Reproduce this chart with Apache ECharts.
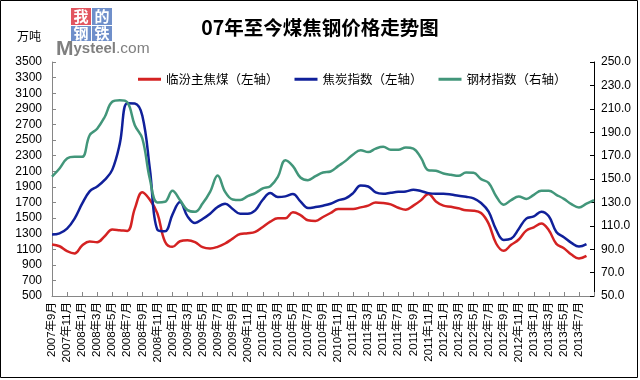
<!DOCTYPE html>
<html><head><meta charset="utf-8">
<script src="https://cdn.jsdelivr.net/npm/echarts/dist/echarts.min.js"></script>
<style>html,body{margin:0;padding:0;background:#fff}#c{width:640px;height:380px}</style>
</head><body><div id="c"></div>
<script>
// Months 2007-09 ... 2013-09
const startYear = 2007, startMonth = 9, monthCount = 73;
const categories = [];
for (let i = 0; i < monthCount; i++) {
  const t = startYear * 12 + (startMonth - 1) + i;
  categories.push(Math.floor(t / 12) + '年' + (t % 12 + 1) + '月');
}
const seriesNames = ['临汾主焦煤（左轴）', '焦炭指数（左轴）', '钢材指数（右轴）'];
const linfenCoal = [1160,1138,1075,1045,1147,1198,1190,1266,1351,1343,
  1334,1620,1830,1734,1560,1200,1130,1202,1215,1190,
  1126,1109,1130,1173,1236,1296,1304,1321,1385,1453,
  1496,1496,1573,1538,1470,1462,1513,1564,1615,1615,
  1615,1636,1658,1700,1692,1675,1632,1607,1658,1726,
  1807,1713,1658,1645,1624,1598,1594,1564,1428,1173,
  1079,1156,1224,1338,1381,1428,1343,1168,1113,1032,
  981,1015];
const cokeIndex = [1287,1304,1364,1492,1683,1841,1904,1989,2117,2450,
  2972,2968,2810,2130,1350,1330,1543,1704,1521,1436,
  1487,1555,1641,1683,1615,1555,1555,1598,1734,1819,
  1768,1777,1807,1713,1628,1640,1658,1683,1726,1751,
  1819,1917,1904,1828,1811,1824,1836,1841,1862,1845,
  1819,1811,1811,1802,1785,1772,1751,1692,1581,1351,
  1219,1236,1360,1492,1521,1581,1521,1321,1253,1181,
  1134,1165];
const steelIndex = [152,159,167.5,169,169,187.4,193,203,216,217.3,
  215.6,196,184.6,150,130,130.5,140,132,123.4,122,
  129,139,153,139,132.5,132,135.3,138,141.9,143.9,
  151.8,166,161,151.3,149,152.4,155.5,156.4,161,165.5,
  171,174.6,173,176,177.5,175,175,176.9,176,168.3,
  157.5,157,154.7,153.6,152.7,155.5,155.3,149.9,146.7,135.3,
  128,132,135,133,136.5,140,140,136.5,133,128.5,
  125.7,129,132];
const leftTicks = [500,700,900,1100,1300,1500,1700,1900,2100,2300,2500,2700,2900,3100,3300,3500];
const rightTicks = [50,70,90,110,130,150,170,190,210,230,250];
const colors = ['#d42222', '#10209a', '#42967a'];

const FONT = "'Liberation Sans','Noto Sans CJK SC',sans-serif";
const CJK = "'Noto Sans CJK SC',sans-serif";
const chart = echarts.init(document.getElementById('c'), null, {renderer: 'canvas'});
chart.setOption({
  backgroundColor: '#fff',
  animation: false,
  title: {
    text: '07年至今煤焦钢价格走势图', left: 'center', top: 13,
    textStyle: {fontSize: 19.5, fontWeight: 'bold', color: '#000', fontFamily: CJK}
  },
  legend: {
    left: 133, top: 68, itemWidth: 23, itemHeight: 3, itemGap: 16, icon: 'rect',
    textStyle: {fontSize: 12.5, color: '#000', fontFamily: CJK},
    data: seriesNames
  },
  grid: {left: 52, right: 46, top: 62, bottom: 84, containLabel: false},
  xAxis: {
    type: 'category', data: categories, boundaryGap: false,
    axisLine: {lineStyle: {color: '#868686', width: 1}},
    axisTick: {inside: true, length: 4, interval: (i) => i % 2 === 0, lineStyle: {color: '#868686'}},
    axisLabel: {rotate: 90, margin: 6, interval: (i) => i % 2 === 0 && i < 72,
      fontSize: 11.5, color: '#000', fontFamily: FONT},
    splitLine: {show: false}
  },
  yAxis: [{
    type: 'value', min: 500, max: 3500, position: 'left',
    axisLine: {show: true, lineStyle: {color: '#868686'}},
    axisTick: {show: true, inside: true, length: 4, customValues: leftTicks, lineStyle: {color: '#868686'}},
    axisLabel: {customValues: leftTicks, margin: 10, fontSize: 12, color: '#000', fontFamily: FONT,
      formatter: (v) => String(v)},
    splitLine: {show: false}
  }, {
    type: 'value', min: 50, max: 250, position: 'right',
    axisLine: {show: true, lineStyle: {color: '#000'}},
    axisTick: {show: true, inside: true, length: 4, customValues: rightTicks, lineStyle: {color: '#000'}},
    axisLabel: {customValues: rightTicks, margin: 7, fontSize: 12, color: '#000', fontFamily: FONT,
      formatter: (v) => v.toFixed(1)},
    splitLine: {show: false}
  }],
  series: [
    {name: seriesNames[0], type: 'line', yAxisIndex: 0, data: linfenCoal, smooth: 0.4, symbol: 'none',
     lineStyle: {color: colors[0], width: 2.5}, itemStyle: {color: colors[0]}},
    {name: seriesNames[1], type: 'line', yAxisIndex: 0, data: cokeIndex, smooth: 0.4, symbol: 'none',
     lineStyle: {color: colors[1], width: 2.5}, itemStyle: {color: colors[1]}},
    {name: seriesNames[2], type: 'line', yAxisIndex: 1, data: steelIndex, smooth: 0.4, symbol: 'none',
     lineStyle: {color: colors[2], width: 2.5}, itemStyle: {color: colors[2]}}
  ],
  graphic: [
    {type: 'rect', shape: {x: 0.5, y: 0.5, width: 637, height: 377}, style: {fill: 'none', stroke: '#000', lineWidth: 1}, silent: true},
    {type: 'text', left: 17, top: 30, style: {text: '万吨', fontSize: 12, fill: '#000', fontFamily: CJK}},
    {type: 'rect', shape: {x: 71, y: 8, width: 20, height: 17}, style: {fill: '#e2555f'}},
    {type: 'rect', shape: {x: 92, y: 8, width: 20, height: 17}, style: {fill: '#6f8fca'}},
    {type: 'rect', shape: {x: 71, y: 26, width: 20, height: 15}, style: {fill: '#6f8fca'}},
    {type: 'rect', shape: {x: 92, y: 26, width: 20, height: 15}, style: {fill: '#6f8fca'}},
    {type: 'text', x: 81, y: 16.5, style: {text: '我', fontSize: 15, fontWeight: 'bold', fill: '#fff', align: 'center', verticalAlign: 'middle', fontFamily: CJK}},
    {type: 'text', x: 102, y: 16.5, style: {text: '的', fontSize: 15, fontWeight: 'bold', fill: '#fff', align: 'center', verticalAlign: 'middle', fontFamily: CJK}},
    {type: 'text', x: 81, y: 33.5, style: {text: '钢', fontSize: 15, fontWeight: 'bold', fill: '#fff', align: 'center', verticalAlign: 'middle', fontFamily: CJK}},
    {type: 'text', x: 102, y: 33.5, style: {text: '铁', fontSize: 15, fontWeight: 'bold', fill: '#fff', align: 'center', verticalAlign: 'middle', fontFamily: CJK}},
    {type: 'text', x: 56, y: 40, style: {
      text: '{a|M}{b|ysteel}{c|.com}', fill: '#7f7f7f',
      rich: {
        a: {fontSize: 21, fontWeight: 'bold', fill: '#7f7f7f', fontFamily: "'Liberation Sans',sans-serif", verticalAlign: 'bottom', height: 18},
        b: {fontSize: 15, fontWeight: 'bold', fill: '#7f7f7f', fontFamily: "'Liberation Sans',sans-serif", verticalAlign: 'bottom', height: 18},
        c: {fontSize: 15.5, fill: '#7f7f7f', fontFamily: "'Liberation Sans',sans-serif", verticalAlign: 'bottom', height: 18}
      }}}
  ]
});
</script></body></html>
